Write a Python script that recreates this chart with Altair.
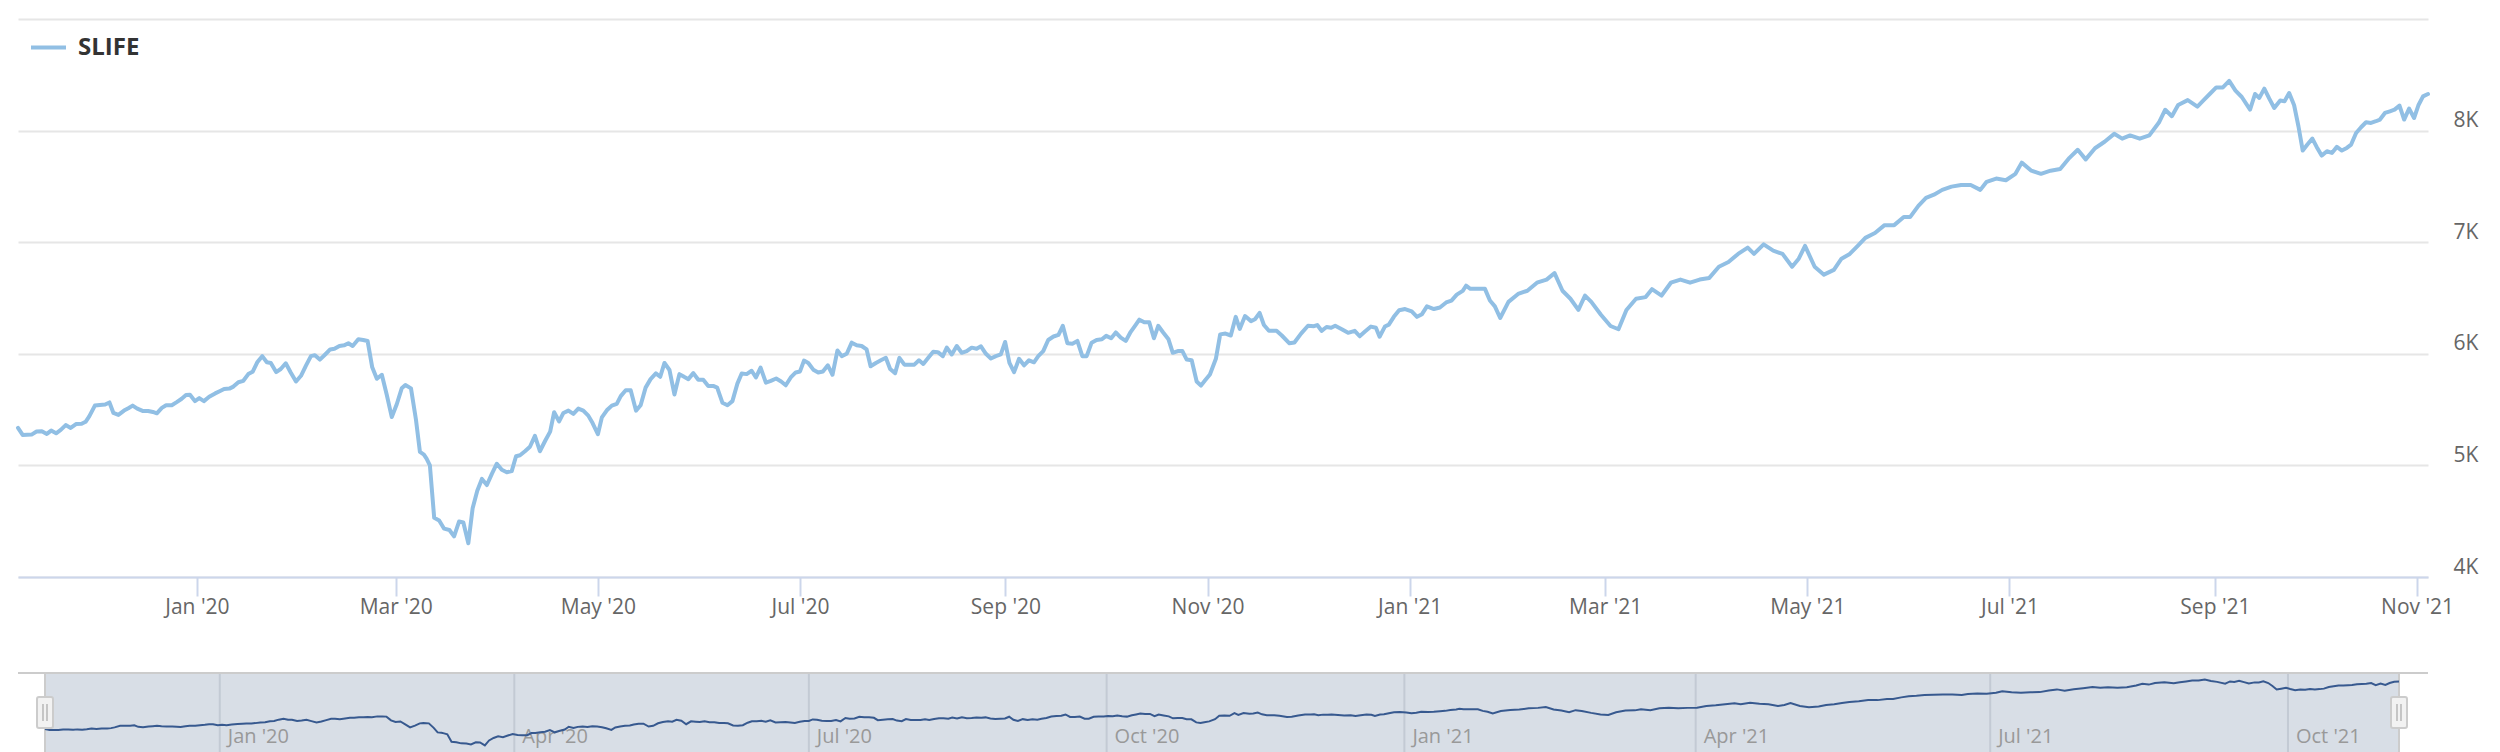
import altair as alt
import pandas as pd

# ---------------- data ----------------
series_name = "SLIFE"
start_date = "2019-11-08"

# days since start_date of each sampled point
day_offsets = [
    0.0, 1.4, 4.1, 5.6, 7.2, 8.7, 10.0, 11.5, 12.9, 14.4, 15.9, 17.5, 19.2, 20.4, 21.5, 23.2, 24.7, 26.3, 27.6, 28.8,
    30.3, 32.0, 33.3, 34.6, 36.0, 37.6, 39.3, 40.7, 41.9, 43.4, 44.7, 46.4, 47.9, 49.4, 50.7, 51.9, 53.4, 54.7, 56.1, 57.7,
    59.5, 61.0, 62.2, 63.8, 65.0, 66.5, 68.0, 69.5, 70.8, 72.2, 73.7, 75.1, 76.3, 77.9, 79.3, 80.8, 82.3, 83.9, 85.4, 86.9,
    88.4, 89.6, 91.1, 92.7, 94.2, 95.5, 97.0, 98.4, 99.7, 101.0, 102.7, 104.2, 105.5, 106.9, 108.3, 109.8, 111.3, 112.8, 114.3, 115.8,
    116.9, 118.6, 120.1, 121.3, 122.5, 123.3, 124.3, 125.6, 127.1, 128.6, 130.2, 131.6, 133.1, 134.4, 135.9, 137.2, 138.6, 140.0, 141.5, 143.0,
    144.5, 146.0, 147.5, 149.0, 150.3, 151.5, 153.0, 154.5, 156.0, 157.5, 159.1, 160.6, 161.8, 163.3, 164.6, 166.1, 167.6, 169.1, 170.6, 172.1,
    173.4, 175.0, 176.2, 177.7, 179.2, 180.7, 181.9, 183.4, 184.9, 186.5, 187.9, 189.4, 190.9, 192.5, 193.8, 195.1, 196.6, 198.1, 199.6, 201.0,
    202.3, 203.8, 205.3, 206.8, 208.3, 209.8, 211.0, 212.6, 214.1, 215.6, 217.1, 218.4, 219.9, 221.4, 222.7, 224.1, 225.7, 227.2, 228.8, 230.3,
    231.7, 233.2, 234.7, 236.0, 237.2, 238.5, 240.0, 241.5, 242.9, 244.4, 245.8, 247.3, 248.6, 250.1, 251.6, 253.1, 254.6, 256.1, 257.3, 258.9,
    260.4, 261.9, 263.2, 264.7, 266.0, 267.5, 269.0, 270.5, 271.9, 273.2, 274.7, 276.2, 277.6, 279.1, 280.3, 281.8, 283.3, 284.8, 286.3, 287.8,
    289.3, 290.6, 292.1, 293.6, 295.1, 296.6, 297.9, 299.2, 300.6, 302.1, 303.6, 305.1, 306.6, 307.9, 309.4, 310.9, 312.5, 314.0, 315.3, 316.7,
    318.2, 319.7, 321.2, 322.5, 324.0, 325.5, 327.1, 328.4, 329.9, 331.3, 332.8, 334.3, 335.8, 337.1, 338.4, 339.9, 341.4, 342.8, 344.1, 345.6,
    347.2, 348.5, 350.0, 351.4, 352.7, 354.2, 355.7, 357.0, 358.2, 359.7, 361.5, 362.8, 364.4, 366.0, 367.5, 368.7, 370.3, 372.1, 373.3, 374.7,
    376.0, 377.5, 379.8, 381.4, 383.7, 385.2, 387.2, 389.3, 391.1, 392.1, 393.4, 394.9, 396.3, 397.5, 399.5, 401.4, 403.4, 404.9, 406.5, 408.3,
    409.8, 410.9, 412.5, 413.7, 415.2, 416.8, 418.6, 420.6, 422.2, 423.7, 425.2, 427.3, 429.1, 431.0, 432.6, 434.2, 436.0, 437.0, 438.3, 440.6,
    442.7, 444.2, 445.7, 447.3, 449.8, 452.7, 455.5, 458.4, 461.3, 463.7, 466.1, 468.5, 470.9, 472.9, 474.8, 477.7, 480.6, 483.0, 485.4, 488.3,
    491.2, 493.1, 496.0, 498.8, 501.7, 504.6, 507.5, 510.4, 513.3, 516.2, 519.1, 522.0, 523.9, 526.8, 529.7, 532.5, 535.4, 537.4, 539.3, 542.2,
    545.0, 548.0, 550.3, 552.8, 555.2, 557.5, 560.4, 563.3, 566.2, 569.1, 571.0, 573.5, 575.8, 578.2, 580.7, 583.5, 586.4, 589.3, 592.2, 594.1,
    597.0, 599.9, 602.8, 604.7, 607.6, 610.5, 613.4, 616.3, 619.1, 621.6, 624.0, 626.8, 629.7, 632.6, 635.0, 637.4, 640.3, 643.2, 646.1, 648.0,
    650.0, 651.9, 654.8, 657.7, 659.6, 661.5, 663.4, 665.4, 667.3, 669.2, 671.1, 673.6, 675.1, 676.4, 677.9, 679.4, 680.9, 682.7, 684.0, 685.4,
    686.9, 688.2, 689.5, 690.9, 692.4, 693.7, 695.2, 696.8, 698.3, 699.8, 701.3, 702.8, 704.1, 705.6, 707.1, 708.6, 710.1, 711.6, 712.8, 714.3,
    715.8, 717.2, 718.7, 720.1, 721.6, 723.1, 724.4, 725.8, 727.3,
]

values = [
    5336, 5273, 5276, 5303, 5306, 5282, 5312, 5288, 5318, 5361, 5336, 5370, 5373, 5391, 5439, 5536, 5542, 5545, 5564, 5470,
    5452, 5491, 5512, 5536, 5509, 5488, 5488, 5479, 5467, 5515, 5539, 5539, 5567, 5597, 5630, 5633, 5576, 5603, 5576, 5615,
    5645, 5667, 5685, 5688, 5706, 5745, 5758, 5818, 5839, 5924, 5979, 5924, 5918, 5836, 5864, 5915, 5833, 5752, 5803, 5894,
    5979, 5988, 5948, 5994, 6039, 6045, 6070, 6076, 6094, 6070, 6130, 6124, 6115, 5879, 5776, 5812, 5630, 5433, 5548, 5691,
    5720, 5690, 5409, 5121, 5097, 5061, 5000, 4530, 4506, 4433, 4421, 4364, 4497, 4488, 4303, 4615, 4773, 4879, 4824, 4924,
    5015, 4961, 4939, 4949, 5082, 5091, 5127, 5167, 5264, 5127, 5221, 5303, 5476, 5394, 5470, 5491, 5461, 5509, 5491, 5446,
    5379, 5279, 5430, 5494, 5536, 5552, 5621, 5673, 5673, 5491, 5539, 5697, 5773, 5824, 5794, 5918, 5855, 5636, 5818, 5794,
    5773, 5827, 5767, 5767, 5712, 5712, 5697, 5561, 5539, 5576, 5733, 5824, 5818, 5848, 5788, 5876, 5742, 5758, 5779, 5752,
    5718, 5788, 5833, 5842, 5939, 5918, 5858, 5833, 5842, 5897, 5812, 6030, 5979, 6000, 6100, 6076, 6070, 6039, 5888, 5918,
    5942, 5964, 5864, 5827, 5964, 5903, 5903, 5903, 5942, 5909, 5964, 6018, 6015, 5979, 6055, 5994, 6070, 6009, 6024, 6055,
    6045, 6067, 6000, 5958, 5979, 5994, 6106, 5918, 5836, 5955, 5897, 5942, 5924, 5979, 6024, 6124, 6155, 6170, 6251, 6094,
    6091, 6115, 5979, 5979, 6100, 6124, 6130, 6161, 6139, 6191, 6145, 6115, 6197, 6251, 6306, 6282, 6282, 6139, 6251, 6191,
    6130, 6009, 6024, 6024, 5948, 5942, 5752, 5715, 5761, 5815, 5955, 6174, 6181, 6164, 6331, 6223, 6338, 6293, 6310, 6366,
    6258, 6206, 6206, 6164, 6094, 6101, 6181, 6251, 6247, 6258, 6206, 6240, 6233, 6251, 6220, 6188, 6206, 6157, 6199, 6244,
    6233, 6153, 6244, 6261, 6331, 6390, 6401, 6380, 6331, 6355, 6425, 6401, 6415, 6460, 6477, 6530, 6564, 6610, 6582, 6582,
    6582, 6477, 6425, 6321, 6465, 6536, 6565, 6637, 6665, 6723, 6565, 6493, 6393, 6522, 6465, 6350, 6249, 6220, 6393, 6493,
    6508, 6579, 6522, 6637, 6665, 6637, 6665, 6680, 6780, 6823, 6895, 6952, 6895, 6981, 6924, 6895, 6780, 6852, 6967, 6780,
    6709, 6752, 6852, 6895, 6967, 7039, 7082, 7153, 7153, 7225, 7225, 7326, 7397, 7426, 7469, 7498, 7512, 7512, 7469, 7541,
    7570, 7555, 7613, 7713, 7641, 7613, 7641, 7656, 7756, 7828, 7742, 7842, 7900, 7971, 7928, 7957, 7928, 7957, 8072, 8187,
    8129, 8230, 8273, 8215, 8273, 8330, 8387, 8387, 8445, 8359, 8301, 8188, 8328, 8293, 8376, 8287, 8203, 8269, 8263, 8337,
    8227, 8039, 7821, 7875, 7928, 7854, 7776, 7815, 7800, 7854, 7821, 7845, 7875, 7979, 8030, 8075, 8069, 8084, 8099, 8158,
    8173, 8188, 8224, 8099, 8197, 8113, 8227, 8307, 8328,
]

x_tick_dates = ["2020-01-01", "2020-03-01", "2020-05-01", "2020-07-01", "2020-09-01", "2020-11-01",
                "2021-01-01", "2021-03-01", "2021-05-01", "2021-07-01", "2021-09-01", "2021-11-01"]
nav_grid_dates = ["2020-01-01", "2020-04-01", "2020-07-01", "2020-10-01",
                  "2021-01-01", "2021-04-01", "2021-07-01", "2021-10-01"]
y_tick_values = [4000, 5000, 6000, 7000, 8000, 9000]

# ---------------- styles ----------------
FONT = "Open Sans"
LINE_COLOR = "#91bfe4"
NAV_LINE = "#37598f"
MASK_FILL = "#d8dee6"
NAV_GRID = "#c3cad4"
OUTLINE = "#cccccc"
AXIS_LINE = "#ccd6eb"
GRID = "#e6e6e6"
LABEL = "#666666"

W, H = 2410, 558
NAV_TOP, NAV_BOTTOM = 654, 733
NAV_LEFT, NAV_RIGHT = 27, 2381

# ---------------- tables ----------------
t0 = pd.Timestamp(start_date)
df = pd.DataFrame({
    "date": t0 + pd.to_timedelta(day_offsets, unit="D"),
    "value": values,
    "series": series_name,
})
t_start, t_end = df["date"].min(), df["date"].max()


def dt(ts):
    ts = pd.Timestamp(ts)
    return alt.DateTime(year=ts.year, month=ts.month, date=ts.day,
                        hours=ts.hour, minutes=ts.minute)


x_domain = [dt(t_start), dt(t_end)]
df_ticks = pd.DataFrame({"date": pd.to_datetime(nav_grid_dates)})
df_range = pd.DataFrame({"start": [t_start], "end": [t_end]})
df_handles = pd.DataFrame({"date": [t_start, t_end]})
df_one = pd.DataFrame({"k": [0]})

nav_lo = min(values) - 0.1 * (max(values) - min(values))
nav_hi = max(values) + 0.1 * (max(values) - min(values))

nav_x = alt.Scale(domain=x_domain, range=[NAV_LEFT, NAV_RIGHT], nice=False)
nav_y = alt.Scale(domain=[nav_lo, nav_hi], range=[NAV_BOTTOM, NAV_TOP], nice=False, zero=False)

# ---------------- main series ----------------
main_line = alt.Chart(df).mark_line(
    strokeWidth=4, strokeJoin="round", strokeCap="round"
).encode(
    x=alt.X("date:T",
            scale=alt.Scale(domain=x_domain, nice=False),
            axis=alt.Axis(values=[dt(d) for d in x_tick_dates], format="%b '%y", title=None,
                          grid=False, domainColor=AXIS_LINE, domainWidth=2,
                          tickColor=AXIS_LINE, tickWidth=2, tickSize=19,
                          labelPadding=0, labelFontSize=21, labelColor=LABEL, labelFont=FONT,
                          labelFlush=False, labelOverlap=False)),
    y=alt.Y("value:Q",
            scale=alt.Scale(domain=[4000, 9000], nice=False, zero=False),
            axis=alt.Axis(orient="right", values=y_tick_values, title=None,
                          grid=True, gridColor=GRID, gridWidth=2,
                          domain=False, ticks=False, tickSize=0,
                          labelPadding=25, labelAlign="left", labelBaseline="alphabetic",
                          labelOffset=-4, labelFontSize=21, labelColor=LABEL, labelFont=FONT,
                          labelOverlap=False, labelFlush=False,
                          labelExpr="datum.value >= 9000 ? '' : format(datum.value / 1000, 'd') + 'K'")),
    color=alt.Color("series:N",
                    scale=alt.Scale(domain=[series_name], range=[LINE_COLOR]),
                    legend=alt.Legend(title=None, orient="none", legendX=11, legendY=9,
                                      symbolType="stroke", symbolSize=1225, symbolStrokeWidth=4,
                                      labelFontSize=24, labelFontWeight="bold", labelColor="#333333",
                                      labelFont=FONT, labelOffset=10, padding=0)),
)

# ---------------- navigator ----------------
nav_mask = alt.Chart(df_range).mark_rect(
    fill=MASK_FILL, stroke=OUTLINE, strokeWidth=2
).encode(
    x=alt.X("start:T", scale=nav_x, axis=None),
    x2="end:T",
    y=alt.value(NAV_TOP),
    y2=alt.value(NAV_BOTTOM + 20),
)

nav_grid = alt.Chart(df_ticks).mark_rule(color=NAV_GRID, strokeWidth=2).encode(
    x=alt.X("date:T", scale=nav_x, axis=None),
    y=alt.value(NAV_TOP + 1),
    y2=alt.value(NAV_BOTTOM + 20),
)

nav_text = alt.Chart(df_ticks).mark_text(
    align="left", baseline="alphabetic", dx=8, fontSize=20, color="#999999", font=FONT
).encode(
    x=alt.X("date:T", scale=nav_x, axis=None),
    y=alt.value(NAV_BOTTOM - 9),
    text=alt.Text("date:T", format="%b '%y"),
)

nav_line = alt.Chart(df).mark_line(color=NAV_LINE, strokeWidth=2).encode(
    x=alt.X("date:T", scale=nav_x, axis=None),
    y=alt.Y("value:Q", scale=nav_y, axis=None),
)

nav_border = alt.Chart(df_one).mark_rule(color=OUTLINE, strokeWidth=2).encode(
    x=alt.value(0), x2=alt.value(W), y=alt.value(NAV_TOP),
)

handles = alt.Chart(df_handles).mark_rect(
    fill="#f2f2f2", stroke=OUTLINE, strokeWidth=2, cornerRadius=2, xOffset=-8, x2Offset=8
).encode(
    x=alt.X("date:T", scale=nav_x, axis=None),
    x2="date:T",
    y=alt.value(NAV_TOP + 24),
    y2=alt.value(NAV_TOP + 55),
)

grip_l = alt.Chart(df_handles).mark_rule(color="#999999", strokeWidth=1, xOffset=-2).encode(
    x=alt.X("date:T", scale=nav_x, axis=None),
    y=alt.value(NAV_TOP + 31), y2=alt.value(NAV_TOP + 48),
)
grip_r = alt.Chart(df_handles).mark_rule(color="#999999", strokeWidth=1, xOffset=2).encode(
    x=alt.X("date:T", scale=nav_x, axis=None),
    y=alt.value(NAV_TOP + 31), y2=alt.value(NAV_TOP + 48),
)

chart = alt.layer(
    main_line, nav_mask, nav_grid, nav_text, nav_line, nav_border, handles, grip_l, grip_r
).resolve_scale(
    x="independent", y="independent"
).properties(
    width=W, height=H,
    padding={"left": 10, "top": 11, "right": 64, "bottom": 175},
    autosize=alt.AutoSizeParams(type="none"),
    background="white",
).configure_view(stroke=None)

chart.save("out.html", embed_options={"renderer": "svg", "actions": False})
